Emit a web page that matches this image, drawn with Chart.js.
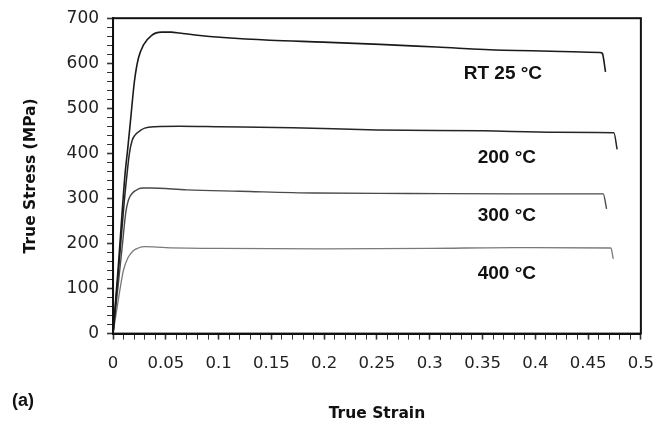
<!DOCTYPE html>
<html>
<head>
<meta charset="utf-8">
<title>True Stress vs True Strain</title>
<script src="https://cdn.jsdelivr.net/npm/chart.js@4.4.1/dist/chart.umd.min.js"></script>
<style>
    html, body { margin: 0; padding: 0; background: #fff; }
    #wrap { width: 668px; height: 425px; }
</style>
</head>
<body>
<div id="wrap"><canvas id="stressChart" width="668" height="425"></canvas></div>
<script>
// curve data (strain, MPa)
const strainRT = [0, 0.005, 0.0114, 0.0139, 0.017, 0.0202, 0.024, 0.0287, 0.0366, 0.046, 0.055, 0.063, 0.08, 0.1045, 0.1487, 0.199, 0.2528, 0.3065, 0.3696, 0.4612, 0.4635, 0.4665];
const stressRT = [0, 150, 355, 410, 484, 559, 611, 640, 662, 669, 669, 667, 662, 657, 651, 647, 642, 636, 629, 624, 622, 581];

const strain200 = [0, 0.005, 0.0105, 0.0135, 0.0155, 0.018, 0.021, 0.026, 0.03, 0.04, 0.063, 0.1, 0.17, 0.25, 0.35, 0.42, 0.4744, 0.4775];
const stress200 = [0, 135, 290, 360, 400, 428, 441, 451, 456, 459, 460, 459, 457, 452, 450, 447, 446, 409];

const strain300 = [0, 0.005, 0.009, 0.012, 0.0145, 0.018, 0.024, 0.0287, 0.035, 0.07, 0.12, 0.19, 0.28, 0.379, 0.4643, 0.4675];
const stress300 = [0, 110, 200, 268, 296, 311, 321, 323, 323, 319, 316, 312, 311, 310, 310, 277];

const strain400 = [0, 0.005, 0.0098, 0.0145, 0.0192, 0.024, 0.03, 0.05, 0.1, 0.2, 0.3, 0.38, 0.4716, 0.4738];
const stress400 = [0, 75, 140, 170, 184, 190, 193, 191, 189, 188, 189, 191, 190, 166];

// curve labels, anchored in data coordinates
const labelText = ['RT 25 °C', '200 °C', '300 °C', '400 °C'];
const labelStrain = [0.3693, 0.373, 0.373, 0.373];
const labelStress = [576, 391, 262, 132];

// axis tick settings
const xMin = 0, xMax = 0.5, xMinorStep = 0.01, xMajorStep = 0.05;
const yMin = 0, yMax = 700, yMinorStep = 20, yMajorStep = 100;

function toPoints(xs, ys) {
    return xs.map((x, i) => ({ x: x, y: ys[i] }));
}

function isMajor(value, step) {
    const k = value / step;
    return Math.abs(k - Math.round(k)) < 1e-6;
}

// frame round the plot area + curve labels + panel letter
const framePlugin = {
    id: 'frame',
    afterDraw(chart) {
        const { ctx, chartArea, scales } = chart;
        ctx.save();
        ctx.strokeStyle = '#111';
        ctx.lineWidth = 2;
        ctx.strokeRect(chartArea.left, chartArea.top, chartArea.right - chartArea.left, chartArea.bottom - chartArea.top);

        ctx.fillStyle = '#111';
        ctx.font = 'bold 19px "Liberation Sans", Arial, sans-serif';
        ctx.textAlign = 'center';
        ctx.textBaseline = 'middle';
        labelText.forEach((t, i) => {
            ctx.fillText(t, scales.x.getPixelForValue(labelStrain[i]), scales.y.getPixelForValue(labelStress[i]));
        });

        ctx.font = 'bold 18px "Liberation Sans", Arial, sans-serif';
        ctx.textAlign = 'left';
        ctx.fillText('(a)', 12, 401);
        ctx.restore();
    }
};

const lineStyle = (label, pts, color, width) => ({
    label: label,
    data: pts,
    borderColor: color,
    borderWidth: width,
    pointRadius: 0,
    fill: false,
    cubicInterpolationMode: 'monotone'
});

const chart = new Chart(document.getElementById('stressChart'), {
    type: 'line',
    data: {
        datasets: [
            lineStyle('RT 25 °C', toPoints(strainRT, stressRT), '#1a1a1a', 1.6),
            lineStyle('200 °C', toPoints(strain200, stress200), '#262626', 1.5),
            lineStyle('300 °C', toPoints(strain300, stress300), '#4a4a4a', 1.4),
            lineStyle('400 °C', toPoints(strain400, stress400), '#7a7a7a', 1.3)
        ]
    },
    options: {
        responsive: false,
        animation: false,
        layout: { padding: { top: 18, right: 27, left: 0, bottom: 0 } },
        plugins: {
            legend: { display: false },
            tooltip: { enabled: false }
        },
        scales: {
            x: {
                type: 'linear',
                min: xMin,
                max: xMax,
                border: { display: true, color: '#111', width: 2 },
                grid: {
                    drawOnChartArea: false,
                    drawTicks: true,
                    tickLength: 6,
                    tickColor: '#333',
                    tickWidth: ctx => isMajor(ctx.tick.value, xMajorStep) ? 1.6 : 1
                },
                ticks: {
                    stepSize: xMinorStep,
                    autoSkip: false,
                    maxRotation: 0,
                    padding: 14,
                    color: '#222',
                    font: { family: '"DejaVu Sans", sans-serif', size: 16.5 },
                    callback: v => isMajor(v, xMajorStep) ? String(Math.round(v * 100) / 100) : ''
                },
                title: {
                    display: true,
                    text: 'True Strain',
                    color: '#111',
                    font: { family: '"DejaVu Sans", sans-serif', size: 15.5, weight: 'bold' },
                    padding: { top: 17, bottom: 2 }
                }
            },
            y: {
                type: 'linear',
                min: yMin,
                max: yMax,
                border: { display: true, color: '#111', width: 2 },
                grid: {
                    drawOnChartArea: false,
                    drawTicks: true,
                    tickLength: 6,
                    tickColor: '#333',
                    tickWidth: ctx => isMajor(ctx.tick.value, yMajorStep) ? 1.6 : 1
                },
                ticks: {
                    stepSize: yMinorStep,
                    autoSkip: false,
                    padding: 8,
                    color: '#222',
                    font: { family: '"DejaVu Sans", sans-serif', size: 17 },
                    callback: v => isMajor(v, yMajorStep) ? String(v) : ''
                },
                title: {
                    display: true,
                    text: 'True Stress (MPa)',
                    color: '#111',
                    font: { family: '"DejaVu Sans", sans-serif', size: 15.5, weight: 'bold' },
                    padding: { top: 22, bottom: 18 }
                }
            }
        }
    },
    plugins: [framePlugin]
});

console.log('chart area', chart.chartArea);
</script>
</body>
</html>
